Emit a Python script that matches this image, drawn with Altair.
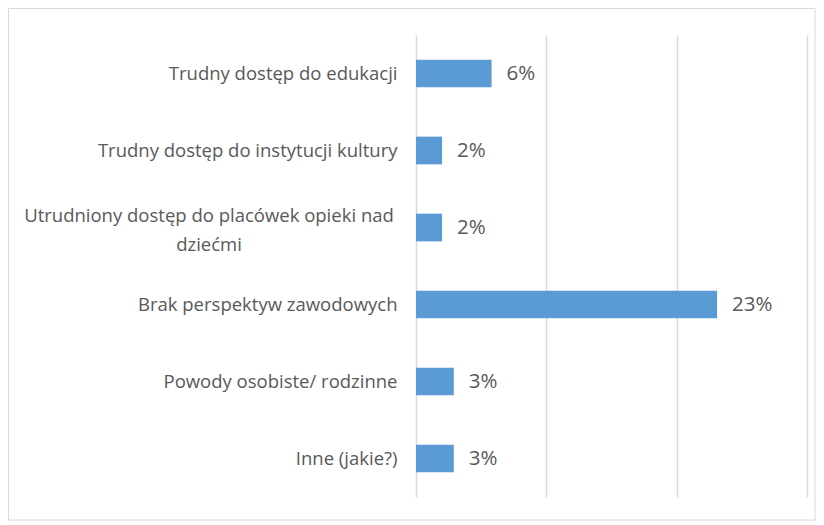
import altair as alt
import pandas as pd

categories = [
    "Trudny dostęp do edukacji",
    "Trudny dostęp do instytucji kultury",
    "Utrudniony dostęp do placówek opieki nad dziećmi",
    "Brak perspektyw zawodowych",
    "Powody osobiste/ rodzinne",
    "Inne (jakie?)",
]
values = [0.058, 0.020, 0.020, 0.231, 0.029, 0.029]
x_ticks = [0, 0.1, 0.2, 0.3]
wrapped_label = "Utrudniony dostęp do placówek opieki nad dziećmi"
wrapped_lines = ["Utrudniony dostęp do placówek opieki nad", "dziećmi"]

df = pd.DataFrame({"kat": categories, "v": values})

W, H = 391, 462
TXT = "#595959"
GRID = "#d9d9d9"
FONT = "Open Sans"
LFS = 18.5

label_expr = "datum.value == '" + wrapped_label + "' ? '' : datum.value"

base = alt.Chart(df)

ysc = alt.Scale(paddingInner=0.64, paddingOuter=0.32)

bars = base.mark_bar(color="#5B9BD5").encode(
    y=alt.Y(
        "kat:N",
        sort=categories,
        title=None,
        scale=ysc,
        axis=alt.Axis(
            labelExpr=label_expr,
            labelFont=FONT,
            labelFontSize=LFS,
            labelColor=TXT,
            labelPadding=19,
            labelLimit=420,
            ticks=False,
            domain=False,
            grid=False,
        ),
    ),
    x=alt.X(
        "v:Q",
        title=None,
        scale=alt.Scale(domain=[0, 0.3]),
        axis=alt.Axis(
            values=x_ticks,
            labels=False,
            ticks=False,
            domain=False,
            grid=True,
            gridColor=GRID,
            gridWidth=1.5,
        ),
    ),
)

text = base.mark_text(
    align="left", baseline="middle", dx=15, font=FONT, fontSize=20.5, color=TXT
).encode(
    y=alt.Y("kat:N", sort=categories),
    x="v:Q",
    text=alt.Text("v:Q", format=".0%"),
)

wrap_df = pd.DataFrame({"kat": [wrapped_label], "lines": [wrapped_lines]})
wrapped = alt.Chart(wrap_df).mark_text(
    align="center", baseline="middle", font=FONT, fontSize=LFS, color=TXT,
    lineHeight=29, dy=-12,
).encode(
    y=alt.Y("kat:N", sort=categories),
    x=alt.value(-207),
    text="lines",
)

border = alt.Chart(pd.DataFrame({"a": [0]})).mark_rect(
    fill=None, stroke=GRID, strokeWidth=1
).encode(
    x=alt.value(-407.5),
    x2=alt.value(399),
    y=alt.value(-26.5),
    y2=alt.value(485),
)

chart = (
    alt.layer(border, bars, text, wrapped)
    .properties(
        width=W,
        height=H,
        autosize=alt.AutoSizeParams(type="none"),
        padding={"left": 408, "top": 27, "right": 9, "bottom": 26},
        background="white",
    )
    .configure_view(stroke=None)
)

chart.save("out.html", embed_options={"renderer": "svg", "actions": False})
